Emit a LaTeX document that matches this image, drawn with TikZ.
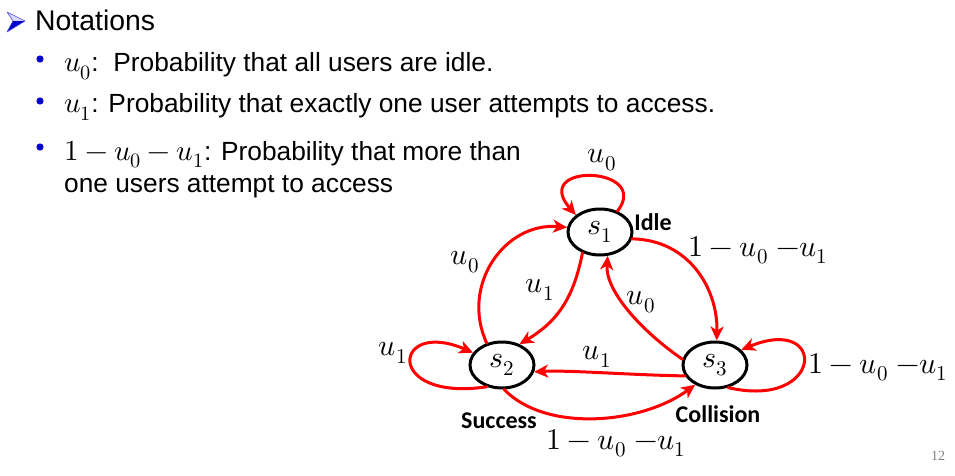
\documentclass[tikz,border=0pt]{standalone}
\usepackage{fontspec}
\usepackage{unicode-math}
\setmainfont{Liberation Sans}
\setmathfont{Latin Modern Math}
\newfontfamily\calfont{Carlito}
\newfontfamily\serfont{Liberation Serif}
\usetikzlibrary{shapes.geometric,arrows.meta}
\definecolor{bulblue}{RGB}{0,0,204}
\definecolor{tr}{RGB}{255,0,0}
\newcommand{\bm}[1]{{\fontsize{29}{29}\selectfont$#1$}}
\begin{document}
\begin{tikzpicture}[x=1pt,y=-1pt,
  st/.style={ellipse,draw=black,line width=3pt,minimum width=64pt,minimum height=46pt,inner sep=0pt,font=\fontsize{30}{30}\selectfont},
  trans/.style={draw=tr,line width=3pt,line cap=round,-{Stealth[length=14pt,width=13pt,inset=4pt]}},
  lbl/.style={font=\fontsize{30}{30}\selectfont,inner sep=0pt},
  nm/.style={font=\calfont\bfseries\fontsize{24}{24}\selectfont,inner sep=0pt},
  txt/.style={anchor=base west,inner sep=0pt,font=\fontsize{26.3}{26.3}\selectfont},
  bul/.style={fill=bulblue},
]
\useasboundingbox (0,0) rectangle (955,476);
% heading arrow
\fill[bulblue] (7,32) -- (25,21) -- (13,21) -- cycle;
\fill[blue!15] (7,12) -- (25,21) -- (13,21) -- cycle;
\draw[bulblue!70,line width=0.6pt,line join=round] (7,12) -- (25,21) -- (7,32) -- (13,21) -- cycle;
\node[anchor=base west,inner sep=0pt,font=\fontsize{28.4}{28.4}\selectfont] (head) at (35,31) {Notations};
% bullets
\fill[bul] (40,59) circle (3.6);
\fill[bul] (40,101) circle (3.6);
\fill[bul] (40,147) circle (3.6);
\node[txt] (b1) at (64,72) {\bm{u_0}:\ \ Probability that all users are idle.};
\node[txt] (b2) at (64,113) {\bm{u_1}: Probability that exactly one user attempts to access.};
\node[txt] (b3) at (64,160) {\bm{1-u_0-u_1}: Probability that more than};
\node[txt] (b4) at (64,192) {one users attempt to access};
% states
\node[st] (s1) at (600,232) {$s_1$};
\node[st] (s2) at (502,365) {$s_2$};
\node[st] (s3) at (715,365) {$s_3$};
% transitions
\draw[trans] (s1.50) .. controls (652,166) and (530,162) .. (s1.145);
\draw[trans] (s1.-12) .. controls (690,240) and (718,290) .. (s3.86);
\draw[trans] (s2.125) .. controls (460,285) and (505,222) .. (s1.172);
\draw[trans] (s1.-130) .. controls (574,295) and (560,320) .. (s2.50);
\draw[trans] (s3.170) .. controls (640,330) and (605,290) .. (s1.-72);
\draw[trans] (s3.200) .. controls (630,375) and (570,370) .. (s2.-12);
\draw[trans] (s2.-85) .. controls (545,432) and (640,425) .. (s3.-135);
\draw[trans] (s2.-125) .. controls (383,402) and (393,318) .. (s2.157);
\draw[trans] (s3.-60) .. controls (824,410) and (828,314) .. (s3.30);
% labels
\node[lbl] (l1) at (602,160) {$u_0$};
\node[lbl] (l2) at (758,250) {$1-u_0\;{-}u_1$};
\node[lbl] (l3) at (465,262) {$u_0$};
\node[lbl] (l4) at (540,290) {$u_1$};
\node[lbl] (l5) at (641,302) {$u_0$};
\node[lbl] (l6) at (597,357) {$u_1$};
\node[lbl] (l7) at (393,353) {$u_1$};
\node[lbl] (l8) at (878,367) {$1-u_0\;{-}u_1$};
\node[lbl] (l9) at (616,443) {$1-u_0\;{-}u_1$};
\node[nm] (idle) at (653,222) {Idle};
\node[nm] (succ) at (499,421) {Success};
\node[nm] (coll) at (718,414) {Collision};
\node[inner sep=0pt,text=gray,font=\serfont\fontsize{14}{14}\selectfont] (pg) at (938,456) {12};
\end{tikzpicture}
\end{document}
